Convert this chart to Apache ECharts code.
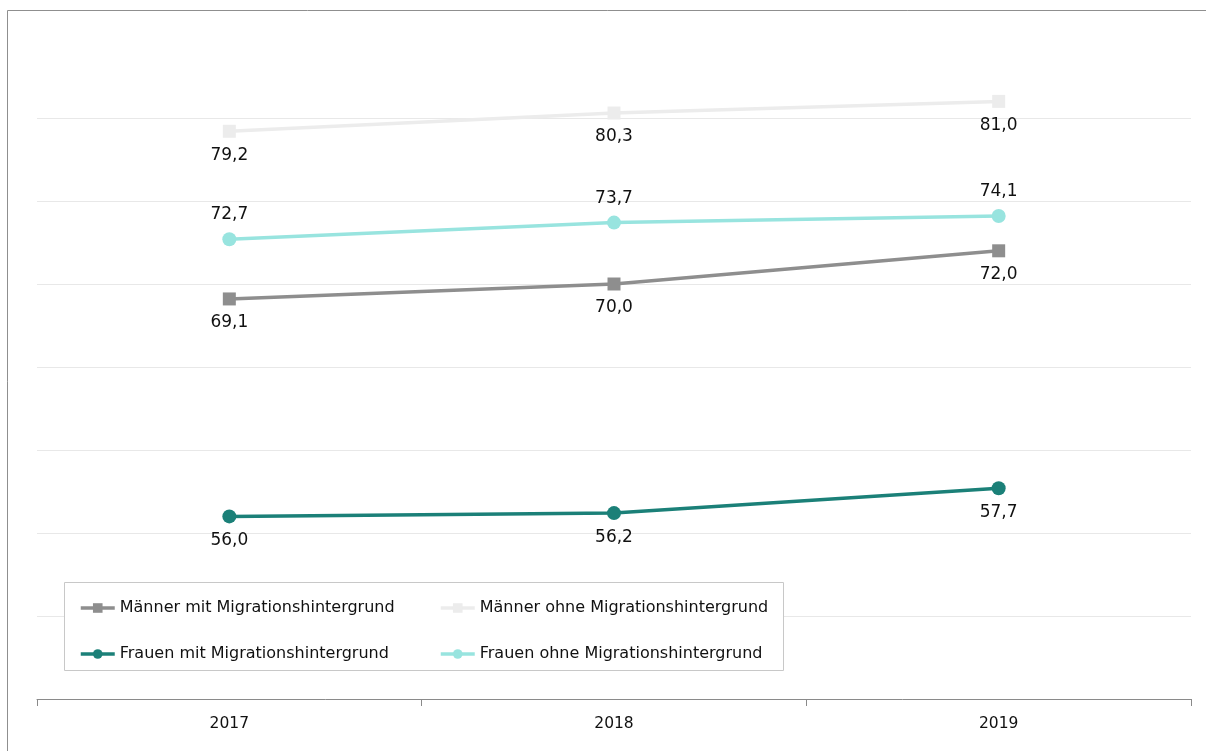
<!DOCTYPE html>
<html><head><meta charset="utf-8">
<script src="https://cdn.jsdelivr.net/npm/echarts@6/dist/echarts.min.js"></script>
<style>html,body{margin:0;padding:0;background:#fff;}#c{width:1206px;height:751px;}</style>
</head><body><div id="c"></div>
<script>
const categories = ['2017', '2018', '2019'];
const maennerMit = [69.1, 70.0, 72.0];
const maennerOhne = [79.2, 80.3, 81.0];
const frauenMit = [56.0, 56.2, 57.7];
const frauenOhne = [72.7, 73.7, 74.1];
const seriesNames = ['Männer mit Migrationshintergrund', 'Männer ohne Migrationshintergrund', 'Frauen mit Migrationshintergrund', 'Frauen ohne Migrationshintergrund'];

const FONT = 'DejaVu Sans';
const fmt = p => p.value.toFixed(1).replace('.', ',');
function mk(name, data, color, symbol, size, pos, dist) {
  return {
    name, type: 'line', data, symbol, symbolSize: size, showSymbol: true,
    lineStyle: { color, width: 3.5 }, itemStyle: { color },
    label: { show: true, position: pos, distance: dist, formatter: fmt, fontFamily: FONT, fontSize: 17, color: '#111' },
    emphasis: { disabled: true }, animation: false, z: 3
  };
}
const legendCommon = {
  orient: 'vertical', top: 593, itemWidth: 34, itemHeight: 12, itemGap: 26, z: 20,
  lineStyle: { width: 3.5 },
  textStyle: { fontFamily: FONT, fontSize: 16, color: '#111', lineHeight: 20 }
};
const chart = echarts.init(document.getElementById('c'), null, { renderer: 'canvas' });
chart.setOption({
  animation: false,
  backgroundColor: '#fff',
  grid: { left: 37, right: 15, top: 35, bottom: 52, containLabel: false },
  xAxis: {
    type: 'category', data: categories, boundaryGap: true,
    axisLine: { lineStyle: { color: '#8a8a8a', width: 1 } },
    axisTick: { show: true, length: 7, lineStyle: { color: '#8a8a8a' } },
    axisLabel: { fontFamily: FONT, fontSize: 15.5, color: '#111', margin: 17 },
    splitLine: { show: false }
  },
  yAxis: {
    type: 'value', min: 45, max: 85, interval: 5,
    axisLine: { show: false }, axisTick: { show: false }, axisLabel: { show: false },
    splitLine: { show: true, showMinLine: false, showMaxLine: false, lineStyle: { color: '#e8e8e8', width: 1.2 } }
  },
  legend: [
    Object.assign({}, legendCommon, { left: 74, data: [seriesNames[0], seriesNames[2]] }),
    Object.assign({}, legendCommon, { left: 434, data: [seriesNames[1], seriesNames[3]] })
  ],
  graphic: [
    { type: 'rect', z: 10, shape: { x: 64.5, y: 582.5, width: 719, height: 88 },
      style: { fill: '#fff', stroke: '#c8c8c8', lineWidth: 1 }, silent: true },
    { type: 'rect', z: 10, shape: { x: 7.5, y: 10.5, width: 1300, height: 900 },
      style: { fill: 'none', stroke: '#8f8f8f', lineWidth: 1 }, silent: true }
  ],
  series: [
    mk(seriesNames[0], maennerMit, '#8e8e8e', 'rect', 13, 'bottom', 9),
    mk(seriesNames[1], maennerOhne, '#ececec', 'rect', 13, 'bottom', 9),
    mk(seriesNames[2], frauenMit, '#1b8078', 'circle', 14, 'bottom', 9),
    mk(seriesNames[3], frauenOhne, '#98e4df', 'circle', 14, 'top', 9)
  ]
});
</script></body></html>
